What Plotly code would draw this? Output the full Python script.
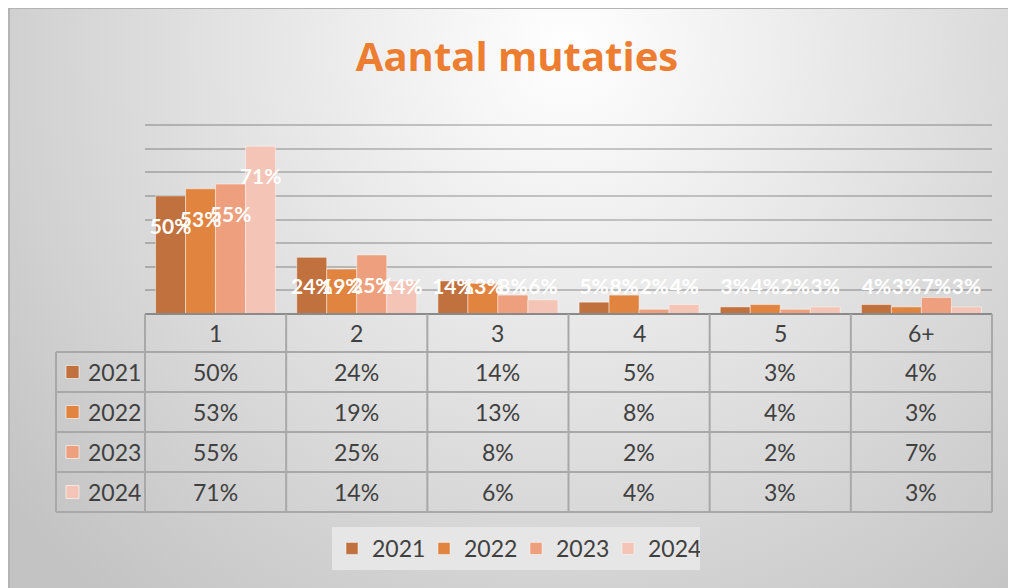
import base64
import plotly.graph_objects as go

# ---------------- data ----------------
categories = ["1", "2", "3", "4", "5", "6+"]
years = ["2021", "2022", "2023", "2024"]
v2021 = [50, 24, 14, 5, 3, 4]
v2022 = [53, 19, 13, 8, 4, 3]
v2023 = [55, 25, 8, 2, 2, 7]
v2024 = [71, 14, 6, 4, 3, 3]
series = [v2021, v2022, v2023, v2024]
colors = ["#C1713D", "#E0843F", "#EE9F7D", "#F4C4B6"]
title_text = "Aantal mutaties"

# ---------------- geometry helpers (page pixels -> paper) ----------------
FW, FH = 1008, 580          # figure size; page body margin puts it at (8, 8)
OFF = 8


def X(p):
    return (p - OFF) / FW


def Y(p):
    return 1 - (p - OFF) / FH


PLOT_L, PLOT_R = 145, 992
BASE, TOP80 = 314, 125
YMAX = 82
top_px = BASE - YMAX * (BASE - TOP80) / 80
ROW_EDGES = [314, 352, 392, 432, 472, 512]
LABEL_L = 56
TXT = "#404040"
FONT = "Lato"
GRID = "#a8a8a8"

BARGAP = 0.15
ncat = len(categories)
nser = len(series)
bw = (1 - BARGAP) / nser

fig = go.Figure()

for k, (yr, vals, col) in enumerate(zip(years, series, colors)):
    fig.add_trace(go.Bar(
        x=list(range(ncat)), y=vals, name=yr,
        marker=dict(color=col, line=dict(color="rgba(255,255,255,0.45)", width=1)),
        hoverinfo="skip",
    ))

# data labels: inside the bar end, kept above the category row for short bars
for k, (yr, vals) in enumerate(zip(years, series)):
    off = -(1 - BARGAP) / 2 + bw * (k + 0.5)
    fig.add_trace(go.Scatter(
        x=[i + off for i in range(ncat)],
        y=[max(v - 13.8, 10.6) for v in vals],
        text=[f"{v}%" for v in vals],
        mode="text", showlegend=False, hoverinfo="skip", cliponaxis=False,
        textfont=dict(family=FONT, size=21, color="white", weight="bold"),
    ))

shapes = []
annos = []

# chart-area border (top & left edges)
shapes.append(dict(type="line", xref="paper", yref="paper", x0=0, x1=1, y0=Y(8), y1=Y(8),
                   line=dict(color="#b4b4b4", width=2), layer="above"))
shapes.append(dict(type="line", xref="paper", yref="paper", x0=X(9), x1=X(9), y0=0, y1=1,
                   line=dict(color="#b4b4b4", width=2), layer="above"))

# data table
col_w = (PLOT_R - PLOT_L) / ncat
col_edges = [PLOT_L + c * col_w for c in range(ncat + 1)]


def hline(y, x0, x1, color=GRID, w=2):
    shapes.append(dict(type="line", xref="paper", yref="paper", x0=X(x0), x1=X(x1),
                       y0=Y(y), y1=Y(y), line=dict(color=color, width=w)))


def vline(x, y0, y1, color=GRID, w=2):
    shapes.append(dict(type="line", xref="paper", yref="paper", x0=X(x), x1=X(x),
                       y0=Y(y0), y1=Y(y1), line=dict(color=color, width=w)))


def text(x, y, s, anchor="center"):
    annos.append(dict(x=X(x), y=Y(y), xref="paper", yref="paper", text=s,
                      xanchor=anchor, yanchor="middle", showarrow=False,
                      font=dict(family=FONT, size=23, color=TXT)))


hline(ROW_EDGES[0], PLOT_L, PLOT_R, color="#8a8a8a", w=2)
for ye in ROW_EDGES[1:]:
    hline(ye, LABEL_L, PLOT_R)
vline(LABEL_L, ROW_EDGES[1], ROW_EDGES[-1])
for xe in col_edges:
    vline(xe, ROW_EDGES[0], ROW_EDGES[-1])

# header
for c, cat in enumerate(categories):
    text(col_edges[c] + col_w / 2, (ROW_EDGES[0] + ROW_EDGES[1]) / 2, cat)
# rows
for r, (yr, vals, col) in enumerate(zip(years, series, colors)):
    yc = (ROW_EDGES[r + 1] + ROW_EDGES[r + 2]) / 2
    shapes.append(dict(type="rect", xref="paper", yref="paper",
                       x0=X(66), x1=X(79), y0=Y(yc - 6.5), y1=Y(yc + 6.5),
                       fillcolor=col, line=dict(color="rgba(255,255,255,0.6)", width=1)))
    text(86, yc, yr, anchor="left")
    for c, v in enumerate(vals):
        text(col_edges[c] + col_w / 2, yc, f"{v}%")

# background gradient image
svg = (
    f'<svg xmlns="http://www.w3.org/2000/svg" width="{FW}" height="{FH}">'
    '<defs><radialGradient id="g" cx="560" cy="40" r="720" gradientUnits="userSpaceOnUse">'
    '<stop offset="0" stop-color="#ffffff"/><stop offset="1" stop-color="#c3c3c3"/>'
    '</radialGradient></defs>'
    f'<rect width="{FW}" height="{FH}" fill="url(#g)"/></svg>'
)
src = "data:image/svg+xml;base64," + base64.b64encode(svg.encode()).decode()

fig.update_layout(
    width=FW, height=FH,
    margin=dict(l=0, r=0, t=0, b=0),
    paper_bgcolor="white", plot_bgcolor="rgba(0,0,0,0)",
    barmode="group", bargap=BARGAP, bargroupgap=0,
    font=dict(family=FONT, color=TXT),
    title=dict(text=title_text, x=X(517), xanchor="center", xref="paper",
               y=Y(57), yanchor="middle", yref="paper",
               font=dict(family="Open Sans", size=40, color="#ED7D31", weight="bold")),
    xaxis=dict(domain=[X(PLOT_L), X(PLOT_R)], range=[-0.5, ncat - 0.5],
               showticklabels=False, showgrid=False, zeroline=False, fixedrange=True),
    yaxis=dict(domain=[Y(BASE), Y(top_px)], range=[0, YMAX], tickvals=[10, 20, 30, 40, 50, 60, 70, 80],
               showticklabels=False, showgrid=True, gridcolor="rgba(0,0,0,0.2)",
               gridwidth=2, zeroline=False, fixedrange=True),
    legend=dict(orientation="h", x=X(516), xanchor="center", y=Y(527), yanchor="top",
                bgcolor="#e6e6e6", font=dict(family=FONT, size=23, color=TXT),
                traceorder="normal", entrywidth=47, entrywidthmode="pixels"),
    shapes=shapes, annotations=annos,
    images=[dict(source=src, xref="paper", yref="paper", x=0, y=1, sizex=1, sizey=1,
                 xanchor="left", yanchor="top", sizing="stretch", layer="below")],
)

fig.write_html("out.html")
